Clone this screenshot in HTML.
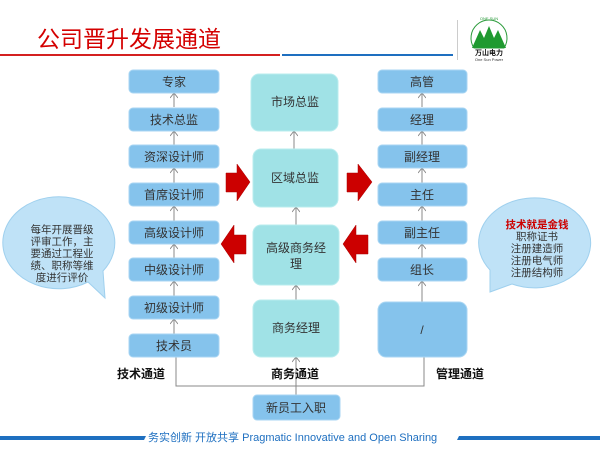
<!DOCTYPE html>
<html><head><meta charset="utf-8"><style>
html,body{margin:0;padding:0;background:#fff;}
svg{display:block;}
text{font-family:"Liberation Sans","Noto Sans CJK SC",sans-serif;}
</style></head><body>
<svg width="600" height="450" viewBox="0 0 600 450" xmlns="http://www.w3.org/2000/svg">
<defs>
<marker id="ah" markerWidth="8" markerHeight="8" refX="6" refY="4" orient="auto" markerUnits="userSpaceOnUse">
<path d="M1,0 L6,4 L1,8" fill="none" stroke="#888" stroke-width="1"/>
</marker>
</defs>
<!-- header -->
<text x="37" y="47" font-size="23" fill="#d40000">公司晋升发展通道</text>
<rect x="0" y="54" width="280" height="2" fill="#d42020"/>
<rect x="282" y="54" width="171" height="2" fill="#1e6fc0"/>
<rect x="457" y="20" width="1" height="40" fill="#ccc"/>
<path d="M474,48 A18,18 0 1 1 504,48 Z" fill="none" stroke="#2a9a3a" stroke-width="1"/>
<path d="M472,48 L480,30 L484,38 L489,26 L494,38 L498,30 L506,48 Z" fill="#1f9a30"/>
<text x="489" y="20" font-size="4" fill="#2a9a3a" text-anchor="middle">ONE SUN</text>
<text x="489" y="55" font-size="7" fill="#111" text-anchor="middle" font-weight="bold">万山电力</text>
<text x="489" y="61" font-size="4" fill="#333" text-anchor="middle">One Sun Power</text>

<!-- connectors -->
<g stroke="#888" stroke-width="1" fill="none">
<line x1="174" y1="107" x2="174" y2="93" marker-end="url(#ah)"/>
<line x1="174" y1="145" x2="174" y2="131" marker-end="url(#ah)"/>
<line x1="174" y1="183" x2="174" y2="168" marker-end="url(#ah)"/>
<line x1="174" y1="221" x2="174" y2="206" marker-end="url(#ah)"/>
<line x1="174" y1="258" x2="174" y2="244" marker-end="url(#ah)"/>
<line x1="174" y1="296" x2="174" y2="281" marker-end="url(#ah)"/>
<line x1="174" y1="334" x2="174" y2="319" marker-end="url(#ah)"/>
<line x1="422" y1="107" x2="422" y2="93" marker-end="url(#ah)"/>
<line x1="422" y1="145" x2="422" y2="131" marker-end="url(#ah)"/>
<line x1="422" y1="183" x2="422" y2="168" marker-end="url(#ah)"/>
<line x1="422" y1="221" x2="422" y2="206" marker-end="url(#ah)"/>
<line x1="422" y1="258" x2="422" y2="244" marker-end="url(#ah)"/>
<line x1="422" y1="302" x2="422" y2="281" marker-end="url(#ah)"/>
<line x1="294" y1="149" x2="294" y2="131" marker-end="url(#ah)"/>
<line x1="296" y1="225" x2="296" y2="207" marker-end="url(#ah)"/>
<line x1="296" y1="300" x2="296" y2="285" marker-end="url(#ah)"/>
<line x1="296" y1="395" x2="296" y2="357" marker-end="url(#ah)"/>
<polyline points="176,357 176,386 424,386 424,357"/>
</g>

<g fill="#85c3ec" stroke="#a9d6f3" stroke-width="1">
<rect x="129" y="70" width="90" height="23" rx="4"/>
<rect x="129" y="108" width="90" height="23" rx="4"/>
<rect x="129" y="145" width="90" height="23" rx="4"/>
<rect x="129" y="183" width="90" height="23" rx="4"/>
<rect x="129" y="221" width="90" height="23" rx="4"/>
<rect x="129" y="258" width="90" height="23" rx="4"/>
<rect x="129" y="296" width="90" height="23" rx="4"/>
<rect x="129" y="334" width="90" height="23" rx="4"/>
<rect x="378" y="70" width="89" height="23" rx="4"/>
<rect x="378" y="108" width="89" height="23" rx="4"/>
<rect x="378" y="145" width="89" height="23" rx="4"/>
<rect x="378" y="183" width="89" height="23" rx="4"/>
<rect x="378" y="221" width="89" height="23" rx="4"/>
<rect x="378" y="258" width="89" height="23" rx="4"/>
<rect x="378" y="302" width="89" height="55" rx="8"/>
<rect x="253" y="395" width="87" height="25" rx="4"/>
</g>
<g fill="#a0e2e6" stroke="#b8ecee" stroke-width="1">
<rect x="251" y="74" width="87" height="57" rx="8"/>
<rect x="253" y="149" width="85" height="58" rx="8"/>
<rect x="253" y="225" width="86" height="60" rx="8"/>
<rect x="253" y="300" width="86" height="57" rx="8"/>
</g>
<g font-size="12" fill="#333" text-anchor="middle">
<text x="174" y="86">专家</text>
<text x="174" y="124">技术总监</text>
<text x="174" y="161">资深设计师</text>
<text x="174" y="199">首席设计师</text>
<text x="174" y="237">高级设计师</text>
<text x="174" y="274">中级设计师</text>
<text x="174" y="312">初级设计师</text>
<text x="174" y="350">技术员</text>
<text x="422" y="86">高管</text>
<text x="422" y="124">经理</text>
<text x="422" y="161">副经理</text>
<text x="422" y="199">主任</text>
<text x="422" y="237">副主任</text>
<text x="422" y="274">组长</text>
<text x="422" y="334">/</text>
<text x="295" y="106">市场总监</text>
<text x="295" y="182">区域总监</text>
<text x="296" y="252">高级商务经</text>
<text x="296" y="268">理</text>
<text x="296" y="332">商务经理</text>
<text x="296" y="412">新员工入职</text>
</g>
<g font-size="12" font-weight="bold" fill="#111">
<text x="117" y="378">技术通道</text>
<text x="271" y="378">商务通道</text>
<text x="436" y="378">管理通道</text>
</g>

<g fill="#cc0000" stroke="#a00" stroke-width="0.5">
<path d="M226,173 L237,173 L237,164 L250,182 L237,201 L237,192 L226,192 Z"/>
<path d="M347,173 L358,173 L358,164 L372,182 L358,201 L358,192 L347,192 Z"/>
<path d="M246,235 L234,235 L234,225 L221,244 L234,263 L234,254 L246,254 Z"/>
<path d="M368,235 L356,235 L356,225 L343,244 L356,263 L356,254 L368,254 Z"/>
</g>

<path d="M88,282 A56,46 0 1 1 103,271 L105,298 Z" fill="#bfe2f7" stroke="#9fd0ee" stroke-width="1"/>
<g font-size="10.5" fill="#333" text-anchor="middle">
<text x="62" y="233">每年开展晋级</text>
<text x="62" y="245">评审工作，主</text>
<text x="62" y="257">要通过工程业</text>
<text x="62" y="269">绩、职称等维</text>
<text x="62" y="281">度进行评价</text>
</g>
<path d="M490,270 A56,45 0 1 1 512,284 L490,292 Z" fill="#bfe2f7" stroke="#9fd0ee" stroke-width="1"/>
<g font-size="10.5" fill="#333" text-anchor="middle">
<text x="537" y="228" fill="#cc0000" font-weight="bold">技术就是金钱</text>
<text x="537" y="240">职称证书</text>
<text x="537" y="252">注册建造师</text>
<text x="537" y="264">注册电气师</text>
<text x="537" y="276">注册结构师</text>
</g>

<path d="M0,436 L146,436 L144,440 L0,440 Z" fill="#1e6fc0"/>
<path d="M459,436 L600,436 L600,440 L457,440 Z" fill="#1e6fc0"/>
<text x="148" y="441" font-size="11" fill="#1e6fc0">务实创新  开放共享 Pragmatic Innovative and Open Sharing</text>
</svg>
</body></html>
